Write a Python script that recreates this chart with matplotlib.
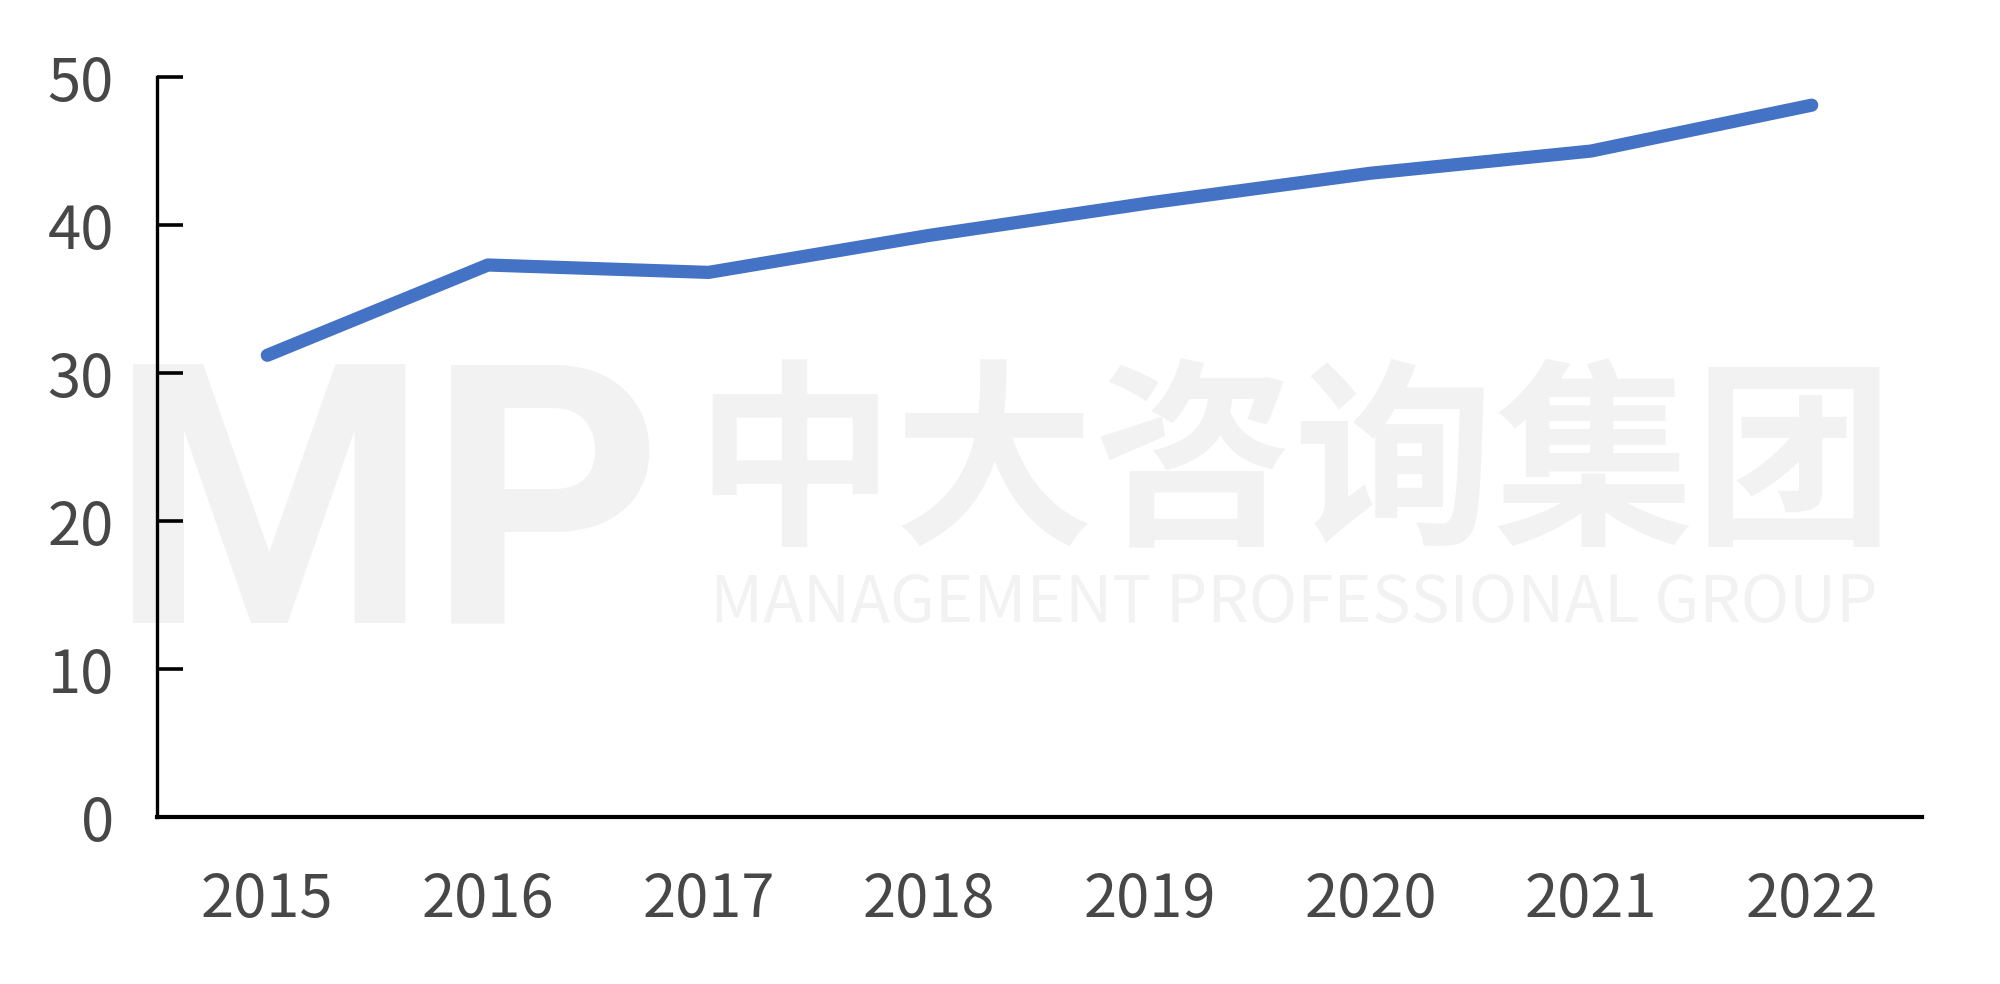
import matplotlib
matplotlib.use("Agg")
import matplotlib.pyplot as plt

plt.rcParams['font.family'] = ['Noto Sans CJK SC', 'DejaVu Sans']

# data
years = ['2015', '2016', '2017', '2018', '2019', '2020', '2021', '2022']
values = [31.2, 37.3, 36.8, 39.3, 41.5, 43.5, 45.0, 48.1]
yticks = [0, 10, 20, 30, 40, 50]

fig = plt.figure(figsize=(20, 9.84), dpi=100)
ax = fig.add_axes([0.0785, 0.1697, 0.8825, 0.752])
ax.set_zorder(2)
ax.patch.set_alpha(0)

# watermark (light grey, behind the axes)
wm = '#f2f2f2'
fig.text(0.055, 0.367, 'MP', fontsize=262, fontweight='bold', color=wm,
         family=['Roboto', 'DejaVu Sans'], ha='left', va='baseline', zorder=0)
fig.text(0.647, 0.462, '中大咨询集团', fontsize=144, fontweight='bold', color=wm,
         ha='center', va='baseline', zorder=0)
fig.text(0.647, 0.368, 'MANAGEMENT PROFESSIONAL GROUP', fontsize=47, color=wm,
         fontweight='medium', ha='center', va='baseline', zorder=0)

x = list(range(len(years)))
ax.plot(x, values, color='#4472C4', linewidth=9.5, solid_capstyle='round',
        solid_joinstyle='round', zorder=3)

ax.set_xlim(-0.5, len(years) - 0.5)
ax.set_ylim(0, 50)
ax.set_xticks(x)
ax.set_xticklabels(years)
ax.set_yticks(yticks)

for side in ['top', 'right']:
    ax.spines[side].set_visible(False)
ax.spines['left'].set_linewidth(2.4)
ax.spines['bottom'].set_linewidth(3)

ax.tick_params(axis='y', direction='in', length=19, width=2.6, pad=31,
               labelsize=43, labelcolor='#474747')
ax.tick_params(axis='x', length=0, pad=38, labelsize=43, labelcolor='#474747')

fig.savefig('out.png', dpi=100, facecolor='white')
